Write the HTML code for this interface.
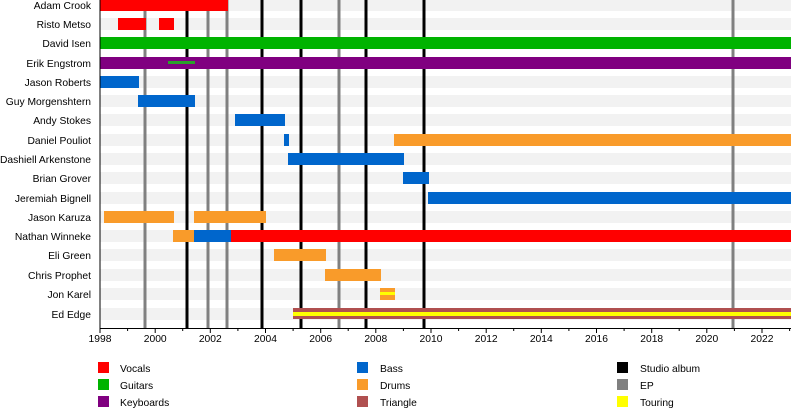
<!DOCTYPE html>
<html><head><meta charset="utf-8"><style>body{margin:0;background:#fff}svg{display:block}text{font-family:"Liberation Sans",sans-serif;font-size:10.3px;fill:#000}</style></head>
<body>
<svg width="800" height="408" xmlns="http://www.w3.org/2000/svg">
<g fill="#f2f2f2">
<rect x="100" y="-1" width="691" height="12"/><rect x="100" y="18" width="691" height="12"/><rect x="100" y="37" width="691" height="12"/><rect x="100" y="57" width="691" height="12"/><rect x="100" y="76" width="691" height="12"/><rect x="100" y="95" width="691" height="12"/><rect x="100" y="114" width="691" height="12"/><rect x="100" y="134" width="691" height="12"/><rect x="100" y="153" width="691" height="12"/><rect x="100" y="172" width="691" height="12"/><rect x="100" y="192" width="691" height="12"/><rect x="100" y="211" width="691" height="12"/><rect x="100" y="230" width="691" height="12"/><rect x="100" y="249" width="691" height="12"/><rect x="100" y="269" width="691" height="12"/><rect x="100" y="288" width="691" height="12"/><rect x="100" y="308" width="691" height="12"/>
</g>
<g stroke="#808080" stroke-width="3"><line x1="145" y1="0" x2="145" y2="328"/><line x1="208" y1="0" x2="208" y2="328"/><line x1="227" y1="0" x2="227" y2="328"/><line x1="339" y1="0" x2="339" y2="328"/><line x1="733" y1="0" x2="733" y2="328"/></g>
<g stroke="#000" stroke-width="3"><line x1="187" y1="0" x2="187" y2="328"/><line x1="262" y1="0" x2="262" y2="328"/><line x1="301" y1="0" x2="301" y2="328"/><line x1="366" y1="0" x2="366" y2="328"/><line x1="424" y1="0" x2="424" y2="328"/></g>
<g fill="#ff0000"><rect x="100" y="-1" width="128" height="12"/><rect x="118" y="18" width="28" height="12"/><rect x="159" y="18" width="15" height="12"/><rect x="231" y="230" width="560" height="12"/></g>
<rect x="100" y="37" width="691" height="12" fill="#00b300"/>
<rect x="100" y="57" width="691" height="12" fill="#800080"/>
<rect x="168" y="61" width="27" height="3" fill="#2aa02a"/>
<g fill="#0066cc"><rect x="100" y="76" width="39" height="12"/><rect x="138" y="95" width="57" height="12"/><rect x="235" y="114" width="50" height="12"/><rect x="284" y="134" width="5" height="12"/><rect x="288" y="153" width="116" height="12"/><rect x="403" y="172" width="26" height="12"/><rect x="428" y="192" width="363" height="12"/><rect x="194" y="230" width="37" height="12"/></g>
<g fill="#f99b2a"><rect x="394" y="134" width="397" height="12"/><rect x="104" y="211" width="70" height="12"/><rect x="194" y="211" width="72" height="12"/><rect x="173" y="230" width="21" height="12"/><rect x="274" y="249" width="52" height="12"/><rect x="325" y="269" width="56" height="12"/><rect x="380" y="288" width="15" height="12"/></g>
<rect x="380" y="292" width="15" height="3" fill="#ffff00"/>
<rect x="293" y="308" width="498" height="11" fill="#b05050"/>
<rect x="293" y="312" width="498" height="4" fill="#ffff00"/>
<line x1="100" y1="0" x2="100" y2="328" stroke="#000"/>
<line x1="100" y1="328.5" x2="791" y2="328.5" stroke="#000"/>
<g text-anchor="end">
<text x="91" y="9">Adam Crook</text><text x="91" y="28">Risto Metso</text><text x="91" y="47">David Isen</text><text x="91" y="67">Erik Engstrom</text><text x="91" y="86">Jason Roberts</text><text x="91" y="105">Guy Morgenshtern</text><text x="91" y="124">Andy Stokes</text><text x="91" y="144">Daniel Pouliot</text><text x="91" y="163">Dashiell Arkenstone</text><text x="91" y="182">Brian Grover</text><text x="91" y="202">Jeremiah Bignell</text><text x="91" y="221">Jason Karuza</text><text x="91" y="240">Nathan Winneke</text><text x="91" y="259">Eli Green</text><text x="91" y="279">Chris Prophet</text><text x="91" y="298">Jon Karel</text><text x="91" y="318">Ed Edge</text>
</g>
<g stroke="#000">
<line x1="100" y1="328" x2="100" y2="333"/><line x1="127.6" y1="328" x2="127.6" y2="331"/><line x1="155.2" y1="328" x2="155.2" y2="333"/><line x1="182.7" y1="328" x2="182.7" y2="331"/><line x1="210.3" y1="328" x2="210.3" y2="333"/><line x1="237.9" y1="328" x2="237.9" y2="331"/><line x1="265.5" y1="328" x2="265.5" y2="333"/><line x1="293.1" y1="328" x2="293.1" y2="331"/><line x1="320.7" y1="328" x2="320.7" y2="333"/><line x1="348.2" y1="328" x2="348.2" y2="331"/><line x1="375.8" y1="328" x2="375.8" y2="333"/><line x1="403.4" y1="328" x2="403.4" y2="331"/><line x1="431" y1="328" x2="431" y2="333"/><line x1="458.6" y1="328" x2="458.6" y2="331"/><line x1="486.2" y1="328" x2="486.2" y2="333"/><line x1="513.7" y1="328" x2="513.7" y2="331"/><line x1="541.3" y1="328" x2="541.3" y2="333"/><line x1="568.9" y1="328" x2="568.9" y2="331"/><line x1="596.5" y1="328" x2="596.5" y2="333"/><line x1="624.1" y1="328" x2="624.1" y2="331"/><line x1="651.7" y1="328" x2="651.7" y2="333"/><line x1="679.2" y1="328" x2="679.2" y2="331"/><line x1="706.8" y1="328" x2="706.8" y2="333"/><line x1="734.4" y1="328" x2="734.4" y2="331"/><line x1="762" y1="328" x2="762" y2="333"/><line x1="789.6" y1="328" x2="789.6" y2="331"/>
</g>
<g text-anchor="middle">
<text x="100" y="342">1998</text><text x="155.2" y="342">2000</text><text x="210.3" y="342">2002</text><text x="265.5" y="342">2004</text><text x="320.7" y="342">2006</text><text x="375.8" y="342">2008</text><text x="431" y="342">2010</text><text x="486.2" y="342">2012</text><text x="541.3" y="342">2014</text><text x="596.5" y="342">2016</text><text x="651.7" y="342">2018</text><text x="706.8" y="342">2020</text><text x="762" y="342">2022</text>
</g>
<rect x="98" y="362" width="11" height="11" fill="#ff0000"/><text x="120" y="372">Vocals</text>
<rect x="98" y="379" width="11" height="11" fill="#00b300"/><text x="120" y="389">Guitars</text>
<rect x="98" y="396" width="11" height="11" fill="#800080"/><text x="120" y="406">Keyboards</text>
<rect x="357" y="362" width="11" height="11" fill="#0066cc"/><text x="380" y="372">Bass</text>
<rect x="357" y="379" width="11" height="11" fill="#f99b2a"/><text x="380" y="389">Drums</text>
<rect x="357" y="396" width="11" height="11" fill="#b05050"/><text x="380" y="406">Triangle</text>
<rect x="617" y="362" width="11" height="11" fill="#000"/><text x="640" y="372">Studio album</text>
<rect x="617" y="379" width="11" height="11" fill="#808080"/><text x="640" y="389">EP</text>
<rect x="617" y="396" width="11" height="11" fill="#ffff00"/><text x="640" y="406">Touring</text>
</svg>
</body></html>
